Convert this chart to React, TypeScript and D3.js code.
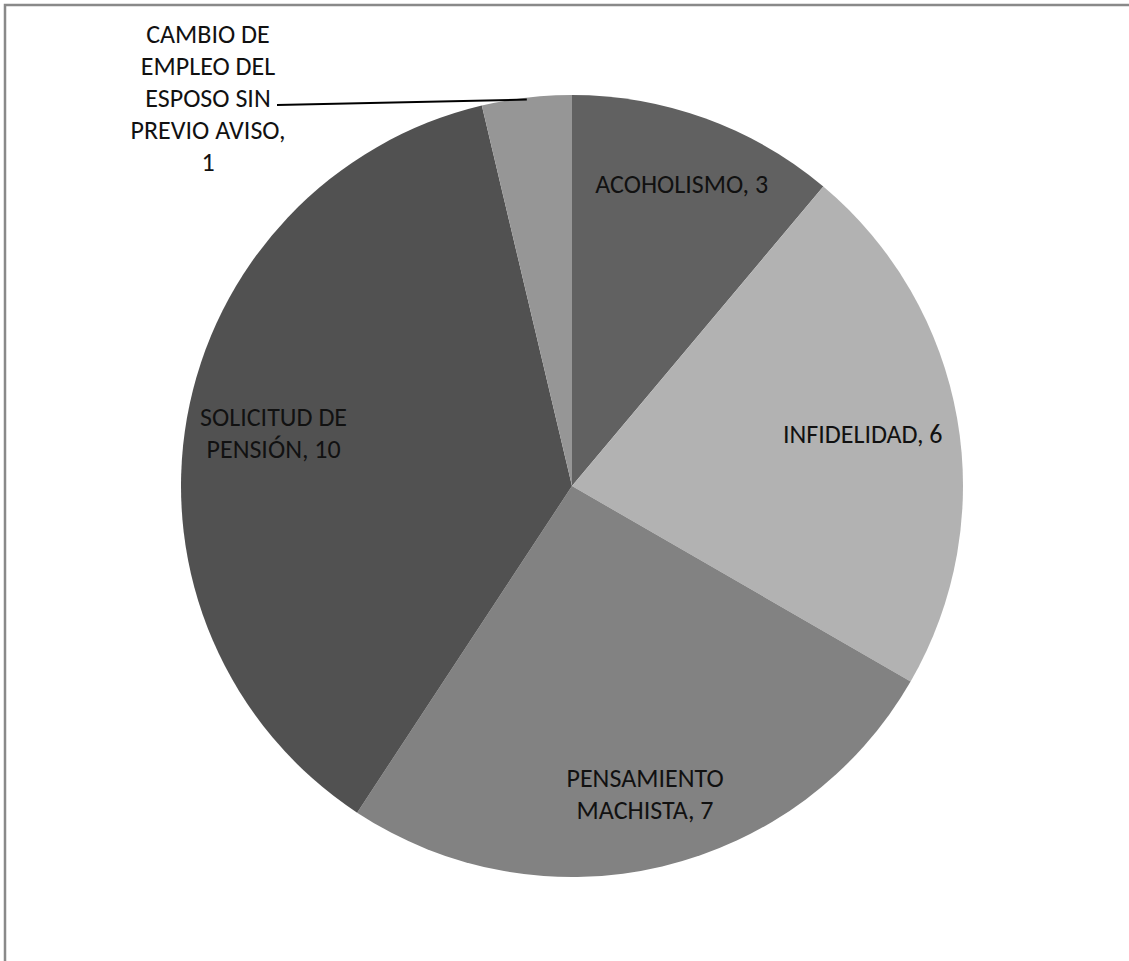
import React from "react";
import * as d3 from "d3";

const categories = [
  "ACOHOLISMO",
  "INFIDELIDAD",
  "PENSAMIENTO MACHISTA",
  "SOLICITUD DE PENSIÓN",
  "CAMBIO DE EMPLEO DEL ESPOSO SIN PREVIO AVISO",
];
const values = [3, 6, 7, 10, 1];
const colors = ["#616161", "#b2b2b2", "#828282", "#515151", "#969696"];
const labelLines = [
  ["ACOHOLISMO, 3"],
  ["INFIDELIDAD, 6"],
  ["PENSAMIENTO", "MACHISTA, 7"],
  ["SOLICITUD DE", "PENSIÓN, 10"],
  ["CAMBIO DE", "EMPLEO DEL", "ESPOSO SIN", "PREVIO AVISO,", "1"],
];

const W = 1129;
const H = 961;
const cx = 572;
const cy = 486;
const R = 391;
const lineH = 32;
const fontSize = 26;
const font = "Carlito, 'Liberation Sans Narrow', 'Open Sans', sans-serif";
const labelFrac = [0.82, 0.755, 0.81, 0.775];

export default function App() {
  const data = categories.map((c, i) => ({ c, v: values[i], i }));
  const pie = d3.pie<any>().value((d) => d.v).sort(null).startAngle(0).endAngle(2 * Math.PI);
  const arcs = pie(data);
  const arc = d3.arc<any>().innerRadius(0).outerRadius(R);

  const labelPos: [number, number][] = arcs.map((a, i) => {
    const mid = (a.startAngle + a.endAngle) / 2;
    const frac = labelFrac[i] ?? 0;
    return [Math.sin(mid) * R * frac, -Math.cos(mid) * R * frac];
  });
  const smallAnchor: [number, number] = [208 - cx, 98 - cy];

  return (
    <svg
      width={W}
      height={H}
      style={{ position: "absolute", left: 0, top: 0, background: "#fff" }}
      fontFamily={font}
    >
      <rect x={5} y={5} width={W + 20} height={H + 20} fill="#fff" stroke="#898989" strokeWidth={2.5} />
      <g transform={`translate(${cx},${cy})`}>
        {arcs.map((a, i) => (
          <path key={i} d={arc(a) || ""} fill={colors[i]} />
        ))}
        {arcs.map((a, i) => {
          if (i === 4) return null;
          const [x, y] = labelPos[i];
          const lines = labelLines[i];
          const y0 = y - ((lines.length - 1) * lineH) / 2;
          return (
            <text key={i} textAnchor="middle" fontSize={fontSize} fill="#111">
              {lines.map((l, j) => (
                <tspan key={j} x={x} y={y0 + j * lineH} dy="0.33em">
                  {l}
                </tspan>
              ))}
            </text>
          );
        })}
        {(() => {
          const a = arcs[4];
          const mid = (a.startAngle + a.endAngle) / 2;
          const ex = Math.sin(mid) * R * 0.995;
          const ey = -Math.cos(mid) * R * 0.995;
          const lines = labelLines[4];
          const [lx, ly] = smallAnchor;
          const y0 = ly - ((lines.length - 1) * lineH) / 2;
          return (
            <g>
              <line x1={277 - cx} y1={105 - cy} x2={ex} y2={ey} stroke="#000" strokeWidth={2} />
              <text textAnchor="middle" fontSize={fontSize} fill="#111">
                {lines.map((l, j) => (
                  <tspan key={j} x={lx} y={y0 + j * lineH} dy="0.33em">
                    {l}
                  </tspan>
                ))}
              </text>
            </g>
          );
        })()}
      </g>
    </svg>
  );
}
